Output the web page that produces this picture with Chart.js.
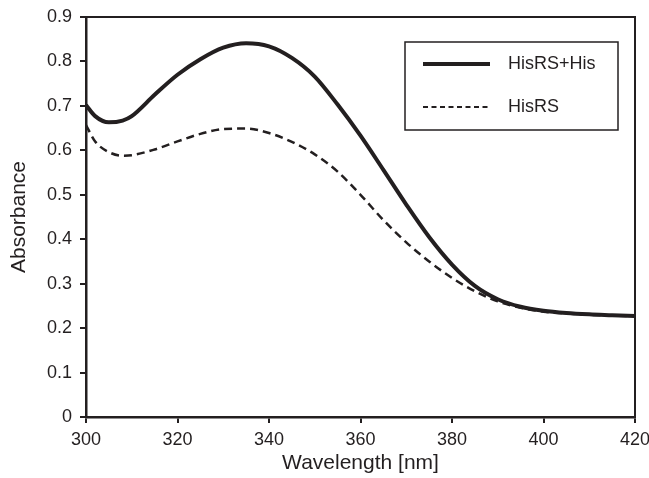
<!DOCTYPE html>
<html>
<head>
<meta charset="utf-8">
<script src="https://cdn.jsdelivr.net/npm/chart.js@4/dist/chart.umd.min.js"></script>
<style>
  html, body { margin: 0; padding: 0; background: #fff; }
  #wrap { width: 649px; height: 478px; }
</style>
</head>
<body>
<div id="wrap"><canvas id="chart" width="649" height="478"></canvas></div>
<script>
/* ====== Data ====== */
const wavelengths = [300, 302, 305, 308, 310, 315, 320, 325, 330, 335, 340, 345, 350, 355, 360,
                     365, 370, 375, 380, 385, 390, 395, 400, 405, 410, 415, 420];
const hisrsHis = [0.702, 0.677, 0.663, 0.667, 0.677, 0.725, 0.770, 0.805, 0.831, 0.841, 0.834, 0.808, 0.766, 0.703, 0.633,
                  0.556, 0.478, 0.405, 0.343, 0.295, 0.265, 0.248, 0.239, 0.234, 0.231, 0.229, 0.227];
const hisrs = [0.657, 0.620, 0.596, 0.588, 0.589, 0.602, 0.620, 0.637, 0.648, 0.649, 0.639, 0.619, 0.591, 0.552, 0.500,
               0.443, 0.393, 0.350, 0.313, 0.283, 0.260, 0.246, 0.237, 0.233, 0.230, 0.228, 0.227];
const seriesNames = ["HisRS+His", "HisRS"];
const xTicks = [300, 320, 340, 360, 380, 400, 420];
const yTicks = [0, 0.1, 0.2, 0.3, 0.4, 0.5, 0.6, 0.7, 0.8, 0.9];

const FONT = "'Liberation Sans', Arial, Helvetica, sans-serif";
const INK = "#231f20";

/* ====== Frame + legend plugin ====== */
const framePlugin = {
  id: "frame",
  afterDraw(chart) {
    const { ctx, chartArea: a } = chart;
    ctx.save();
    ctx.strokeStyle = INK;
    ctx.lineWidth = 2;
    ctx.beginPath();
    ctx.moveTo(a.left, a.top);
    ctx.lineTo(a.right, a.top);
    ctx.lineTo(a.right, a.bottom);
    ctx.stroke();

    // legend box
    const bx = 405, by = 42, bw = 213, bh = 88;
    ctx.lineWidth = 1.5;
    ctx.fillStyle = "#fff";
    ctx.fillRect(bx, by, bw, bh);
    ctx.strokeRect(bx, by, bw, bh);

    const rows = [64, 107];
    chart.data.datasets.forEach((ds, i) => {
      ctx.strokeStyle = ds.borderColor;
      ctx.lineWidth = i === 0 ? 4 : 2;
      ctx.setLineDash(i === 0 ? [] : [5, 3.5]);
      ctx.beginPath();
      ctx.moveTo(423, rows[i]);
      ctx.lineTo(490, rows[i]);
      ctx.stroke();
      ctx.setLineDash([]);
      ctx.fillStyle = INK;
      ctx.font = "18px " + FONT;
      ctx.textAlign = "left";
      ctx.textBaseline = "middle";
      ctx.fillText(ds.label, 508, rows[i]);
    });
    ctx.restore();
  }
};

/* ====== Chart ====== */
const pts = (ys) => wavelengths.map((x, i) => ({ x, y: ys[i] }));

new Chart(document.getElementById("chart"), {
  type: "line",
  data: {
    datasets: [
      {
        label: seriesNames[0],
        data: pts(hisrsHis),
        borderColor: INK,
        borderWidth: 4,
        pointRadius: 0,
        cubicInterpolationMode: "monotone",
        fill: false
      },
      {
        label: seriesNames[1],
        data: pts(hisrs),
        borderColor: INK,
        borderWidth: 2.5,
        borderDash: [8, 5],
        pointRadius: 0,
        cubicInterpolationMode: "monotone",
        fill: false
      }
    ]
  },
  options: {
    responsive: false,
    animation: false,
    layout: { padding: { top: 17, right: 14, left: 0, bottom: 0 } },
    plugins: { legend: { display: false }, tooltip: { enabled: false } },
    scales: {
      x: {
        type: "linear",
        min: 300, max: 420,
        afterBuildTicks: s => { s.ticks = xTicks.map(v => ({ value: v })); },
        afterFit: s => { s.height = 61; s.paddingLeft = 0; s.paddingRight = 0; },
        border: { display: true, color: INK, width: 2.5 },
        grid: { drawOnChartArea: false, drawTicks: true, tickLength: 6, color: INK, lineWidth: 2 },
        ticks: { color: INK, font: { family: FONT, size: 18 }, padding: 6, maxRotation: 0 },
        title: { display: true, text: "Wavelength [nm]", color: INK, font: { family: FONT, size: 21 }, padding: { top: 2, bottom: 2 } }
      },
      y: {
        type: "linear",
        min: 0, max: 0.9,
        afterBuildTicks: s => { s.ticks = yTicks.map(v => ({ value: v })); },
        afterFit: s => { s.width = 86; s.paddingTop = 0; s.paddingBottom = 0; },
        border: { display: true, color: INK, width: 2.5 },
        grid: { drawOnChartArea: false, drawTicks: true, tickLength: 6, color: INK, lineWidth: 2 },
        ticks: { color: INK, font: { family: FONT, size: 18 }, padding: 8, callback: v => String(+v.toFixed(1)) },
        title: { display: true, text: "Absorbance", color: INK, font: { family: FONT, size: 21 }, padding: { top: 7, bottom: 0 } }
      }
    }
  },
  plugins: [framePlugin]
});
</script>
</body>
</html>
